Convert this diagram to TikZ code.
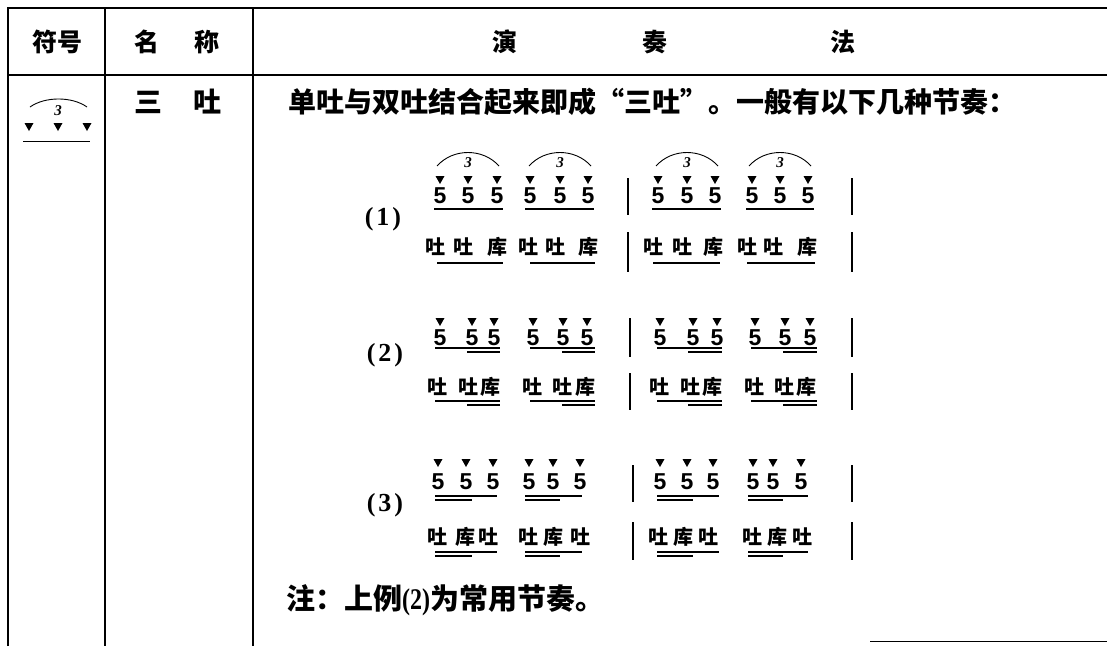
\documentclass[tikz,border=0pt]{standalone}
\usepackage{fontspec}
\newfontfamily\cjk{Noto Sans CJK SC}
\newfontfamily\numfont{Liberation Sans}
\newfontfamily\labfont{Liberation Serif}
\usetikzlibrary{positioning}

\tikzset{
  rule/.style={line width=1.8pt},
  uline/.style={line width=1.1pt},
  barline/.style={line width=2pt},
  head/.style={font=\cjk\bfseries\fontsize{25}{25}\selectfont,inner sep=0pt},
  body/.style={font=\cjk\bfseries\fontsize{28}{28}\selectfont,inner sep=0pt},
  syl/.style={font=\cjk\bfseries\fontsize{20}{20}\selectfont,inner sep=0pt},
  five/.style={font=\numfont\bfseries\fontsize{23}{23}\selectfont,inner sep=0pt},
  trip/.style={font=\labfont\bfseries\itshape\fontsize{15}{15}\selectfont,inner sep=0pt},
  num/.style={font=\labfont\bfseries\fontsize{26}{26}\selectfont,inner sep=0pt},
}

\begin{document}
\begin{tikzpicture}[x=1pt,y=-1pt]
\useasboundingbox (0,0) rectangle (1107,646);

% table
\draw[rule] (8,646) -- (8,8) -- (1107,8);
\draw[rule] (8,75) -- (1107,75);
\draw[rule] (105,8) -- (105,646);
\draw[rule] (253,8) -- (253,646);
\draw[very thin] (870,641) -- (1107,641);

\node[head] (hsym) at (57,42) {符号};
\node[head] (hna) at (147,42) {名};
\node[head] (hnb) at (207,42) {称};
\node[head] (hya) at (505,42) {演};
\node[head] (hyb) at (655,42) {奏};
\node[head] (hyc) at (843,42) {法};

% symbol
\draw[line width=0.9pt] (30,107) .. controls (45,96.3) and (72,96.3) .. (87,107);
\node[trip] (s3) at (58,111) {3};
\foreach \x in {29,58,87}
  \fill[shift={(\x,127)}] (-4.5,-4) -- (4.5,-4) -- (0,4) -- cycle;
\draw[line width=0.7pt] (23,141) -- (90,141);

\node[body] (na) at (148,102) {三};
\node[body] (nb) at (207,102) {吐};
\node[body,anchor=west] (text) at (288,102) {单吐与双吐结合起来即成“三吐”。一般有以下几种节奏：};

% (1)
\node[num] (l1) at (383,219) {(\hspace{3pt}1\hspace{3pt})};
\foreach \x [count=\i] in {440,468,497,530,560,588,658,687,715,752,780,808} {
  \node[five] (a\i) at (\x,196) {5};
  \fill[shift={(\x,180)}] (-4.5,-4) -- (4.5,-4) -- (0,4) -- cycle;
}
\foreach \x in {468,560,687,780} {
  \draw[line width=0.9pt] (\x-31,166) .. controls (\x-15,148) and (\x+15,148) .. (\x+31,166);
  \node[trip] at (\x,163) {3};
}
\foreach \x/\t [count=\i] in {435/吐,463/吐,497/库,528/吐,555/吐,588/库,653/吐,682/吐,713/库,747/吐,773/吐,807/库}
  \node[syl] (p\i) at (\x,247) {\t};
\foreach \l/\r in {434/503,525/594,652/721,746/814}
  \draw[uline] (\l,209) -- (\r,209);
\foreach \l/\r in {437/503,530/595,653/720,747/815}
  \draw[uline] (\l,263) -- (\r,263);
\foreach \x in {628,852} {
  \draw[barline] (\x,178) -- (\x,215);
  \draw[barline] (\x,232) -- (\x,272);
}

% (2)
\node[num] (l2) at (385,355) {(\hspace{3pt}2\hspace{3pt})};
\foreach \x [count=\i] in {440,472,494,533,563,587,660,693,717,755,785,810} {
  \node[five] (b\i) at (\x,338) {5};
  \fill[shift={(\x,322)}] (-4.5,-4) -- (4.5,-4) -- (0,4) -- cycle;
}
\foreach \x/\t [count=\i] in {437/吐,468/吐,490/库,532/吐,562/吐,585/库,659/吐,690/吐,712/库,754/吐,784/吐,806/库}
  \node[syl] (q\i) at (\x,387) {\t};
\foreach \l/\m/\r in {435/467/500,530/562/595,657/688/722,751/783/817} {
  \draw[uline] (\l,348) -- (\r,348);
  \draw[uline] (\m,352) -- (\r,352);
  \draw[uline] (\l,401) -- (\r,401);
  \draw[uline] (\m,405) -- (\r,405);
}
\foreach \x in {630,852} {
  \draw[barline] (\x,318) -- (\x,357);
  \draw[barline] (\x,373) -- (\x,410);
}

% (3)
\node[num] (l3) at (385,505) {(\hspace{3pt}3\hspace{3pt})};
\foreach \x [count=\i] in {438,466,493,529,553,580,660,687,713,753,773,801} {
  \node[five] (c\i) at (\x,482) {5};
  \fill[shift={(\x,463)}] (-4.5,-4) -- (4.5,-4) -- (0,4) -- cycle;
}
\foreach \x/\t [count=\i] in {437/吐,465/库,488/吐,528/吐,553/库,580/吐,658/吐,683/库,708/吐,752/吐,777/库,802/吐}
  \node[syl] (r\i) at (\x,537) {\t};
\foreach \l/\m/\r in {435/472/497,525/560/582,657/693/719,748/783/808} {
  \draw[uline] (\l,496) -- (\r,496);
  \draw[uline] (\l,500) -- (\m,500);
  \draw[uline] (\l,552) -- (\r,552);
  \draw[uline] (\l,556) -- (\m,556);
}
\foreach \x in {633,852} {
  \draw[barline] (\x,465) -- (\x,502);
  \draw[barline] (\x,522) -- (\x,560);
}

\node[body,anchor=west,font=\cjk\bfseries\fontsize{29}{29}\selectfont] (note) at (286,600) {注：上例\scalebox{0.8}[1]{\labfont\bfseries\fontsize{30}{30}\selectfont(2)}为常用节奏。};

\end{tikzpicture}
\end{document}
